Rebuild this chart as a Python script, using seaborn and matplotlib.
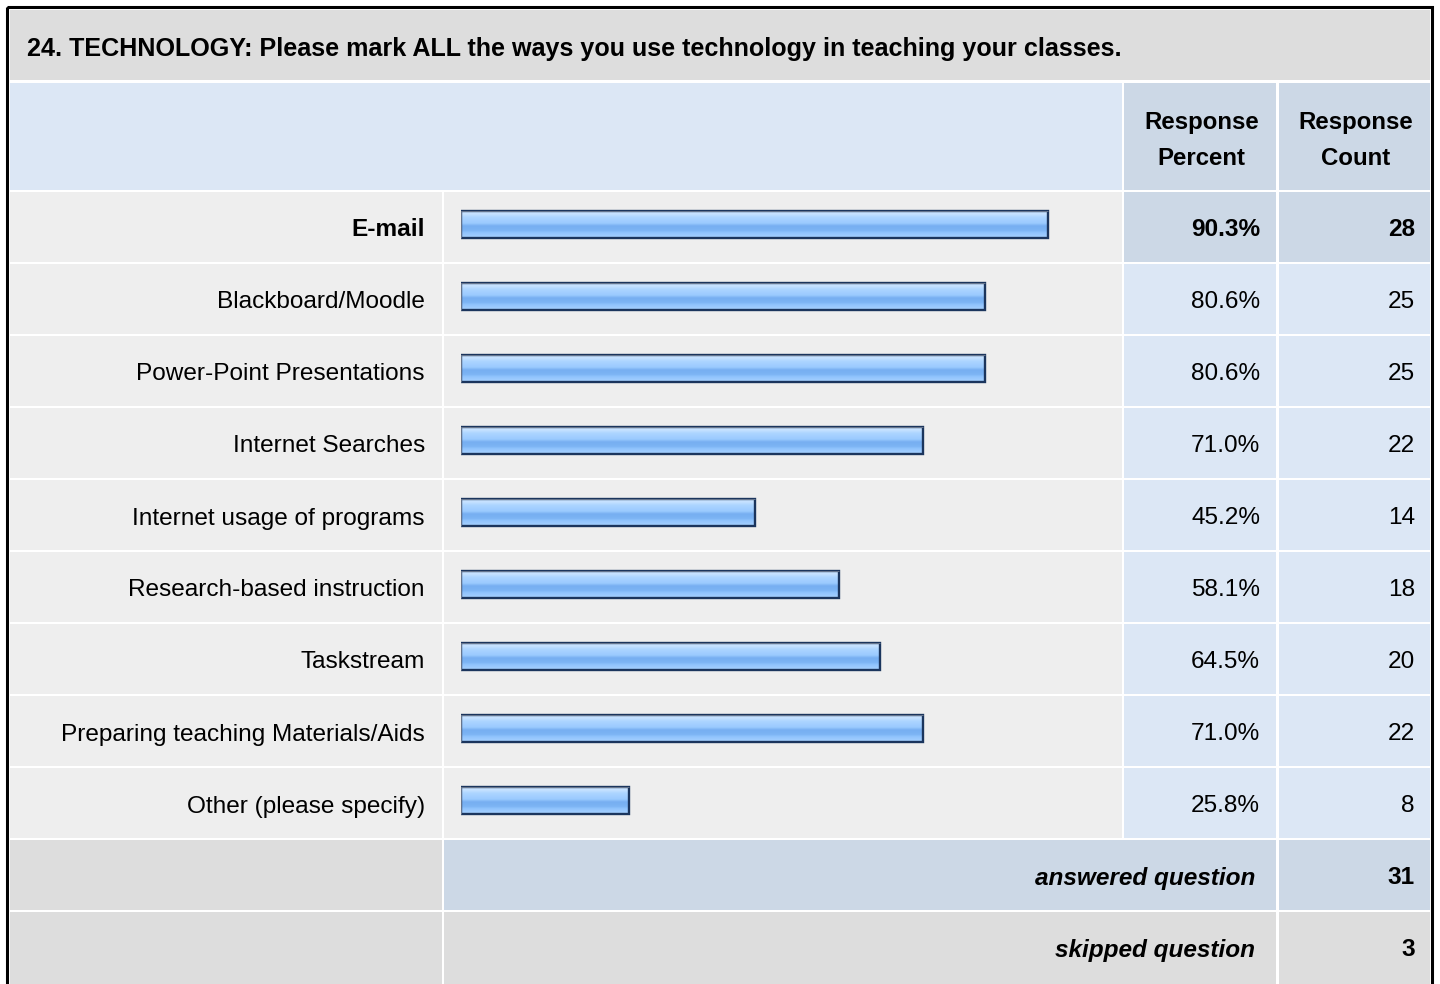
import numpy as np
import matplotlib
matplotlib.use("Agg")
import matplotlib.pyplot as plt
from matplotlib.patches import Rectangle
from matplotlib.colors import to_rgb
import seaborn as sns

# ---- survey data -------------------------------------------------------
question = "24. TECHNOLOGY: Please mark ALL the ways you use technology in teaching your classes."
options = [
    "E-mail",
    "Blackboard/Moodle",
    "Power-Point Presentations",
    "Internet Searches",
    "Internet usage of programs",
    "Research-based instruction",
    "Taskstream",
    "Preparing teaching Materials/Aids",
    "Other (please specify)",
]
percents = [90.3, 80.6, 80.6, 71.0, 45.2, 58.1, 64.5, 71.0, 25.8]
counts = [28, 25, 25, 22, 14, 18, 20, 22, 8]
header_percent = ["Response", "Percent"]
header_count = ["Response", "Count"]
answered_label = "answered question"
answered_count = 31
skipped_label = "skipped question"
skipped_count = 3

# ---- style -------------------------------------------------------------
sns.set_theme(style="white")
plt.rcParams["font.family"] = ["Liberation Sans", "DejaVu Sans"]

W, H = 1440, 984
fig = plt.figure(figsize=(W / 100, H / 100), dpi=100)
fig.patch.set_facecolor("white")

# table canvas in pixel units
bg = fig.add_axes([0, 0, 1, 1])
bg.set_xlim(0, W)
bg.set_ylim(H, 0)
bg.axis("off")

C_TITLE = "#dddddd"
C_ROW = "#eeeeee"
C_BLUE = "#dce7f5"
C_BLUE_DK = "#ccd8e6"
C_GREY = "#dddddd"

# column edges
col = [(10, 442), (444, 1122), (1124, 1276), (1279, 1430)]
ROW0, PITCH, RH = 192, 72, 70
FS = 17.6
FS_HEAD = 17.3
FS_TITLE = 18.1


def cell(x0, x1, y0, y1, color):
    bg.add_patch(Rectangle((x0, y0), x1 - x0, y1 - y0, facecolor=color,
                           edgecolor="none", zorder=1))


# outer frame
bg.add_patch(Rectangle((6.5, 6.5), 1425, 1100, facecolor="none",
                       edgecolor="black", linewidth=2.2, zorder=5))

# title row
cell(10, 1430, 10, 80, C_TITLE)
bg.text(27, 56, question, fontsize=FS_TITLE, fontweight="bold",
        ha="left", va="baseline", color="black", zorder=6)

# header row
cell(col[0][0], col[1][1], 83, 190, C_BLUE)
cell(*col[2], 83, 190, C_BLUE_DK)
cell(*col[3], 83, 190, C_BLUE_DK)
for (x0, x1), lines in ((col[2], header_percent), (col[3], header_count)):
    cx = (x0 + x1) / 2 + 1.5
    for k, s in enumerate(lines):
        bg.text(cx, 128.5 + 36.5 * k, s, fontsize=FS_HEAD, fontweight="bold",
                ha="center", va="baseline", color="black", zorder=6)

# option rows
for i, (lab, pct, cnt) in enumerate(zip(options, percents, counts)):
    top = ROW0 + PITCH * i
    first = i == 0
    cell(*col[0], top, top + RH, C_ROW)
    cell(*col[1], top, top + RH, C_ROW)
    cell(*col[2], top, top + RH, C_BLUE_DK if first else C_BLUE)
    cell(*col[3], top, top + RH, C_BLUE_DK if first else C_BLUE)
    wt = "bold" if first else "normal"
    base = top + 44.5
    bg.text(425, base, lab, fontsize=FS, fontweight=wt, ha="right",
            va="baseline", color="black", zorder=6)
    bg.text(1260, base, f"{pct:.1f}%", fontsize=FS, fontweight=wt,
            ha="right", va="baseline", color="black", zorder=6)
    bg.text(1415, base, f"{cnt}", fontsize=FS, fontweight=wt,
            ha="right", va="baseline", color="black", zorder=6)

# summary rows
top_a = ROW0 + PITCH * len(options)
top_s = top_a + PITCH
cell(*col[0], top_a, top_a + RH, C_GREY)
cell(col[1][0], col[2][1], top_a, top_a + RH, C_BLUE_DK)
cell(*col[3], top_a, top_a + RH, C_BLUE_DK)
cell(*col[0], top_s, H + 10, C_GREY)
cell(col[1][0], col[2][1], top_s, H + 10, C_GREY)
cell(*col[3], top_s, H + 10, C_GREY)
for top, lab, cnt in ((top_a, answered_label, answered_count),
                      (top_s, skipped_label, skipped_count)):
    bg.text(1255, top + 44.5, lab, fontsize=FS, fontweight="bold",
            fontstyle="italic", ha="right", va="baseline", color="black",
            zorder=6)
    bg.text(1415, top + 44.5, f"{cnt}", fontsize=FS, fontweight="bold",
            ha="right", va="baseline", color="black", zorder=6)

# ---- bar chart column --------------------------------------------------
x_zero, px_per_pct = 461, 6.5
bar_center0 = 224.7
n = len(options)
ax_top = bar_center0 - PITCH / 2
ax_h = PITCH * n
bax = fig.add_axes([x_zero / W, 1 - (ax_top + ax_h) / H,
                    100 * px_per_pct / W, ax_h / H])
bax.set_facecolor("none")
bax.patch.set_alpha(0)

sns.barplot(x=percents, y=options, orient="h", ax=bax, width=27 / 72,
            color="#93c5ff", saturation=1, errorbar=None)

# vertical glossy gradient for each bar
stops = [(0.00, "#cfe7ff"), (0.12, "#c3e0ff"), (0.22, "#add5ff"),
         (0.45, "#9acaff"), (0.55, "#77aff1"), (0.72, "#7cb4f4"),
         (0.80, "#8fc3fd"), (1.00, "#a9d2ff")]
pos = np.array([s[0] for s in stops])
rgb = np.array([to_rgb(s[1]) for s in stops])
t = np.linspace(0, 1, 64)
grad = np.stack([np.interp(t, pos, rgb[:, c]) for c in range(3)], axis=-1)
grad = grad[:, None, :]

for p in bax.patches:
    x0, y0, w, h = p.get_x(), p.get_y(), p.get_width(), p.get_height()
    im = bax.imshow(grad, extent=(x0, x0 + w, y0 + h, y0), aspect="auto",
                    origin="upper", interpolation="bilinear", zorder=2)
    im.set_clip_path(p)
    p.set_facecolor("none")
    p.set_edgecolor("#1b355d")
    p.set_linewidth(1.7)
    p.set_zorder(3)
    # soft grey highlight along the upper and left edges
    bax.plot([x0, x0, x0 + w], [y0 + h, y0, y0], color="#8792a3",
             linewidth=0.5, zorder=4, solid_capstyle="butt")

bax.set_xlim(0, 100)
bax.set_ylim(n - 0.5, -0.5)
bax.axis("off")

fig.savefig("out.png", dpi=100)
